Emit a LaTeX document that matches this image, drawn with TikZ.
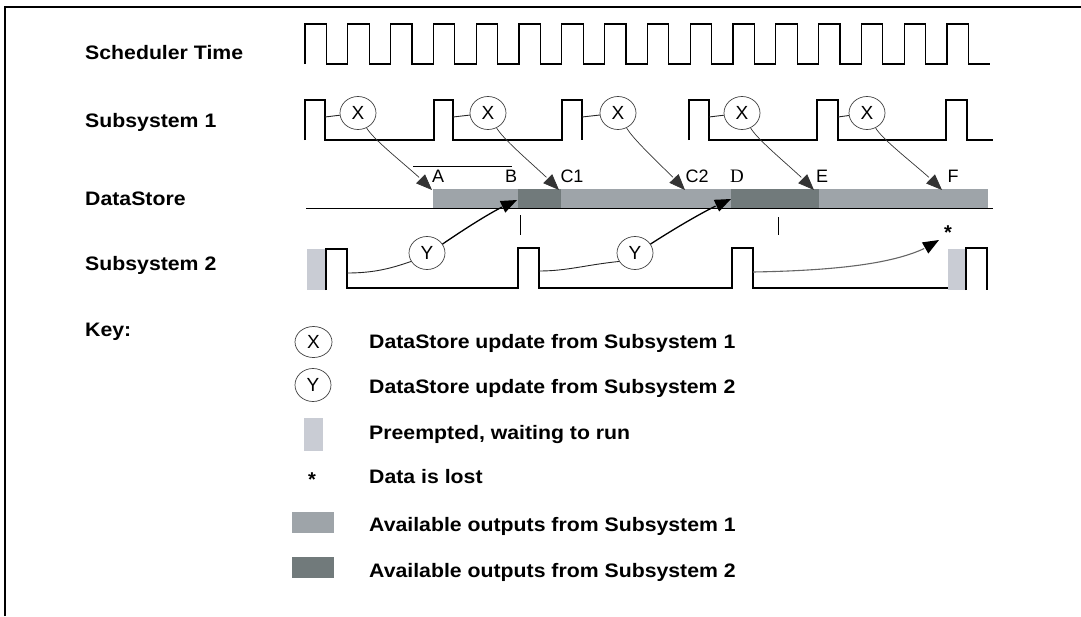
\documentclass[tikz,border=0pt]{standalone}
\usepackage{fontspec}
\setmainfont{Liberation Sans}
\newfontfamily\serifD{Liberation Serif}
\usetikzlibrary{arrows.meta,shapes.geometric,bending}
\definecolor{outone}{HTML}{9EA4A9}
\definecolor{outtwo}{HTML}{717A7B}
\definecolor{preempt}{HTML}{C9CCD4}
\begin{document}
\begin{tikzpicture}[x=1pt,y=-1pt,
  wave/.style={line width=1.1pt, black},
  frameline/.style={line width=2.6pt, black},
  rowlabel/.style={anchor=base west, font=\fontsize{19.5}{21}\selectfont\bfseries, inner sep=0, xscale=1.09},
  keytext/.style={anchor=base west, font=\fontsize{19.5}{21}\selectfont\bfseries, inner sep=0, xscale=1.09},
  evt/.style={ellipse, draw=black!75, line width=0.7pt, minimum width=36pt, minimum height=33pt, inner sep=0, font=\fontsize{19}{21}\selectfont},
  ptlabel/.style={anchor=base, font=\fontsize{18}{20}\selectfont, inner sep=0},
  xlink/.style={line width=0.7pt, draw=black!80, -{Triangle[length=16pt,width=12.5pt]}},
  ylink/.style={line width=1.3pt, draw=black, -{Triangle[length=16pt,width=12.5pt]}},
  lostlink/.style={line width=1.1pt, draw=black!60, -{Triangle[length=16pt,width=12.5pt,color=black,fill=black]}},
  feed/.style={line width=0.9pt, draw=black!85},
  tickmark/.style={line width=1pt},
  lostmark/.style={font=\fontsize{20}{22}\selectfont\bfseries, inner sep=0},
]
\useasboundingbox (0,0) rectangle (1081,616);
% frame
\draw[frameline] (5,616) -- (5,7) -- (1081,7);

% row labels
\node[rowlabel] (lsched) at (85,59) {Scheduler Time};
\node[rowlabel] (lsub1) at (85,127) {Subsystem 1};
\node[rowlabel] (lds) at (85,205) {DataStore};
\node[rowlabel] (lsub2) at (85,270) {Subsystem 2};
\node[rowlabel] (lkey) at (85,336) {Key:};

% scheduler clock
\draw[wave] (305,64) foreach \i in {0,...,15} { -- ++(0,-40) -- ++(21.4,0) -- ++(0,40) -- ++(21.4,0) };

% subsystem 1
\draw[wave] (305,140) -- (305,100) -- (325,100) -- (325,140) -- (434,140) -- (434,100) -- (453,100) -- (453,140) -- (562,140) -- (562,100) -- (582,100) -- (582,140);
\draw[wave] (689,140) -- (689,100) -- (709,100) -- (709,140) -- (817,140) -- (817,100) -- (838,100) -- (838,140) -- (946,140) -- (946,100) -- (967,100) -- (967,140) -- (993,140);

\node[evt] (X1) at (358,113) {X};
\node[evt] (X2) at (488,113) {X};
\node[evt] (X3) at (618,113) {X};
\node[evt] (X4) at (742,113) {X};
\node[evt] (X5) at (867,113) {X};
\coordinate (f1) at (325,117);
\coordinate (f2) at (453,117);
\coordinate (f3) at (582,117);
\coordinate (f4) at (709,117);
\coordinate (f5) at (838,117);
\draw[feed] (f1) -- (X1);
\draw[feed] (f2) -- (X2);
\draw[feed] (f3) -- (X3);
\draw[feed] (f4) -- (X4);
\draw[feed] (f5) -- (X5);

% datastore
\fill[outone] (433,189) rectangle (988,208);
\fill[outtwo] (518,189) rectangle (561,208);
\fill[outtwo] (731,189) rectangle (819,208);
\draw[line width=1pt] (306,208) -- (993,208);
\draw[line width=0.8pt] (413,166) -- (512,166);
\draw[tickmark] (520,215) -- (520,235);
\draw[tickmark] (778,217) -- (778,235);

\node[ptlabel] (lA) at (438,182) {A};
\node[ptlabel] (lB) at (511,182) {B};
\node[ptlabel] (lC1) at (572,182) {C1};
\node[ptlabel] (lC2) at (697,182) {C2};
\node[ptlabel,font=\fontsize{19}{21}\selectfont\serifD] (lD) at (737,182) {D};
\node[ptlabel] (lE) at (822,182) {E};
\node[ptlabel] (lF) at (953,182) {F};

\coordinate (tA) at (432,190);
\coordinate (tC1) at (559,190);
\coordinate (tC2) at (685,190);
\coordinate (tE) at (814,190);
\coordinate (tF) at (942,190);
\coordinate (tB) at (517,200);
\coordinate (tD) at (731,199);

\draw[xlink] (X1.-60) .. controls +(8,14) and +(-14,-16) .. (tA);
\draw[xlink] (X2.-60) .. controls +(8,14) and +(-14,-16) .. (tC1);
\draw[xlink] (X3.-60) .. controls +(8,14) and +(-14,-16) .. (tC2);
\draw[xlink] (X4.-60) .. controls +(8,14) and +(-14,-16) .. (tE);
\draw[xlink] (X5.-60) .. controls +(8,14) and +(-14,-16) .. (tF);

% subsystem 2
\fill[preempt] (307,249) rectangle (326,290);
\fill[preempt] (948,249) rectangle (966,290);
\draw[wave] (326,290) -- (326,249) -- (347,249) -- (347,288) -- (518,288) -- (518,248) -- (539,248) -- (539,288) -- (732,288) -- (732,248) -- (753,248) -- (753,288) -- (948,288);
\draw[wave] (966,290) -- (966,248) -- (987,248) -- (987,290);

\node[evt] (Y1) at (427,253) {Y};
\node[evt] (Y2) at (635,253) {Y};
\coordinate (g1) at (347,273);
\coordinate (g2) at (539,271);
\coordinate (g3) at (753,272);
\coordinate (tLost) at (939,240);
\draw[feed] (g1) .. controls (375,273) and (392,268) .. (Y1.208);
\draw[feed] (g2) .. controls (567,271) and (585,265) .. (Y2.208);
\draw[ylink] (Y1.30) .. controls +(25,-17) and +(-20,8) .. (tB);
\draw[ylink] (Y2.30) .. controls +(28,-18) and +(-20,8) .. (tD);
\draw[lostlink] (g3) .. controls (870,270) and (915,257) .. (tLost);
\node[lostmark] (star) at (948,233) {*};

% key
\node[evt, minimum width=37pt, minimum height=31pt] (kX) at (313.5,342) {X};
\node[keytext] (kXt) at (369,348) {DataStore update from Subsystem 1};
\node[evt, minimum width=36pt, minimum height=33pt] (kY) at (313,385) {Y};
\node[keytext] (kYt) at (369,393) {DataStore update from Subsystem 2};
\fill[preempt] (304,418) rectangle (323,451);
\node[keytext] (kPt) at (369,439) {Preempted, waiting to run};
\node[lostmark] (kS) at (312,480) {*};
\node[keytext] (kSt) at (369,483.5) {Data is lost};
\fill[outone] (292,512) rectangle (334,533);
\node[keytext] (k1t) at (369,531.5) {Available outputs from Subsystem 1};
\fill[outtwo] (292,557) rectangle (334,578);
\node[keytext] (k2t) at (369,577) {Available outputs from Subsystem 2};
\end{tikzpicture}
\end{document}
